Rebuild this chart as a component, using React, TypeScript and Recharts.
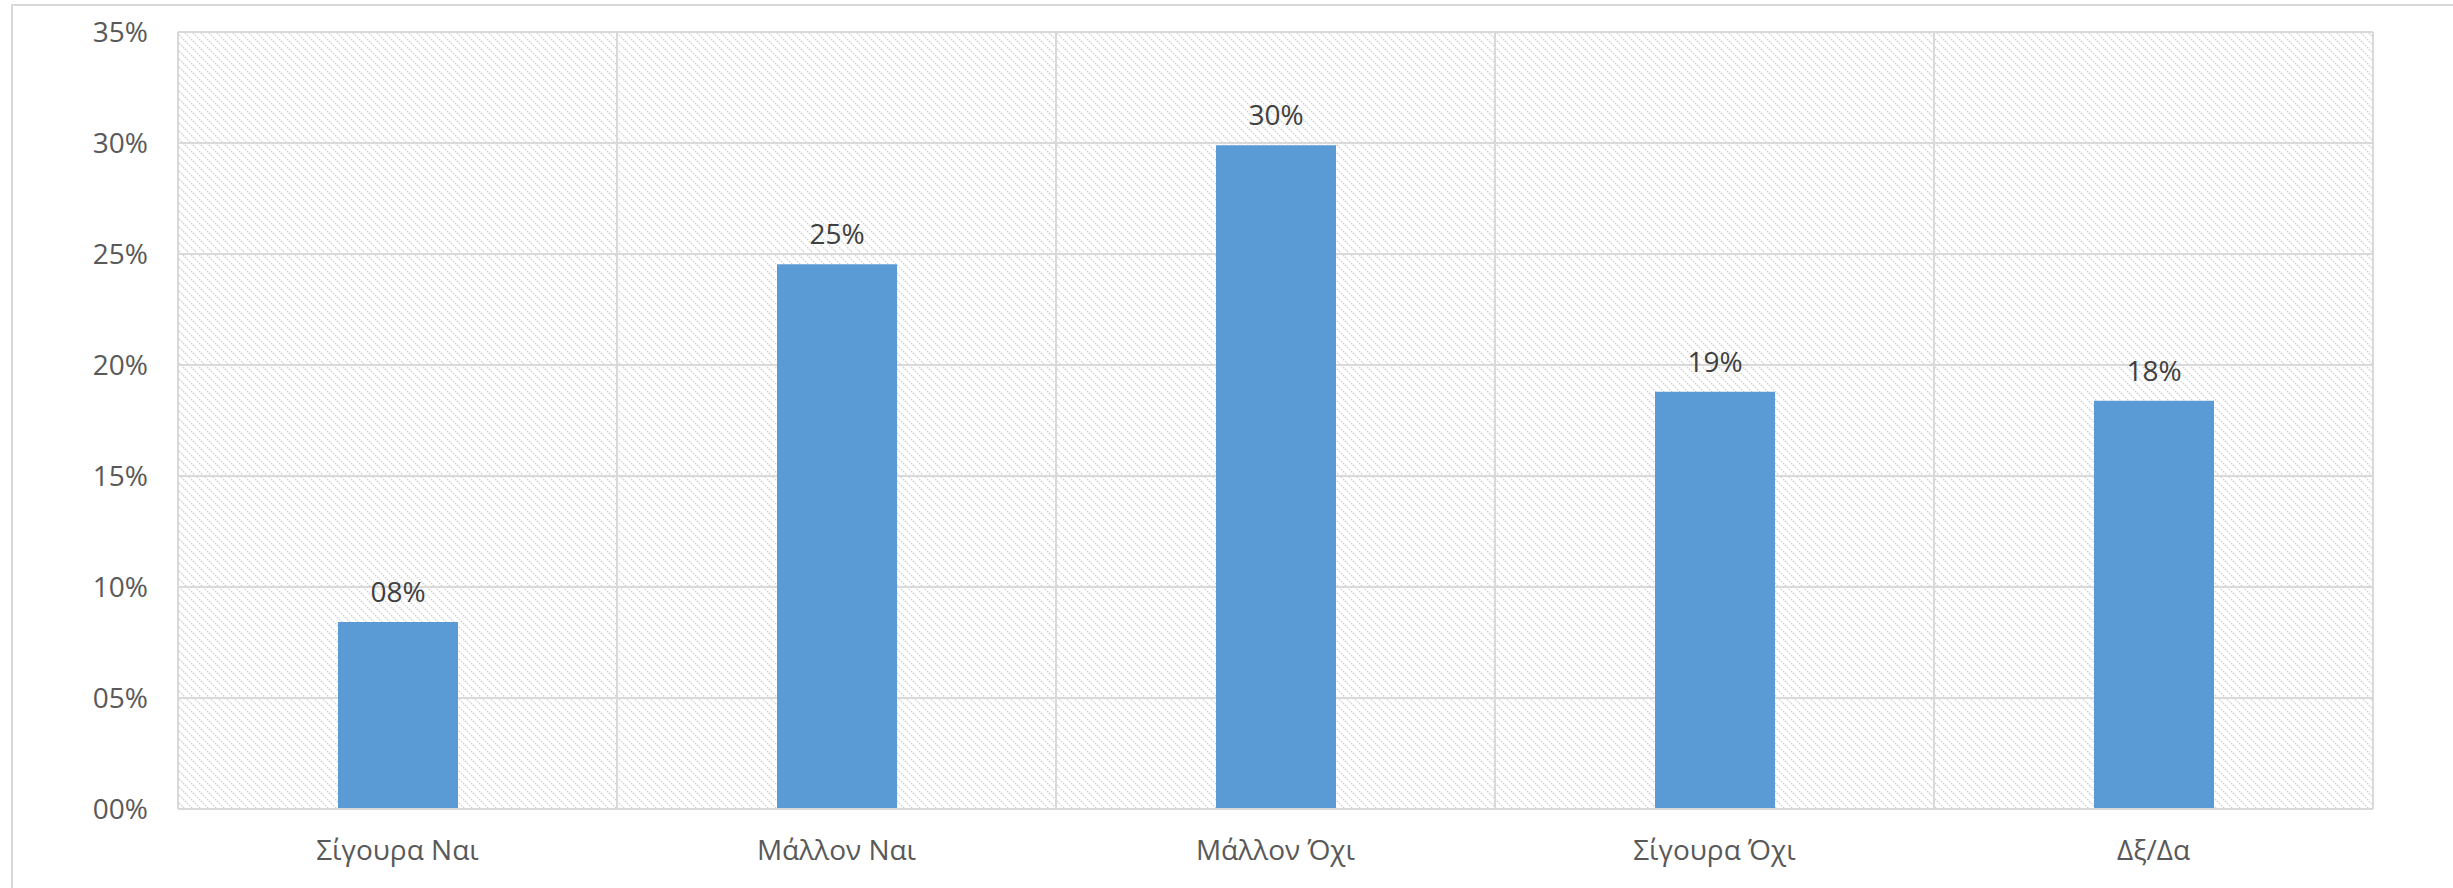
import { Bar, BarChart, CartesianGrid, LabelList, XAxis, YAxis } from "recharts"

const categories = ["Σίγουρα Ναι", "Μάλλον Ναι", "Μάλλον Όχι", "Σίγουρα Όχι", "Δξ/Δα"]
const shares = [0.0842, 0.2454, 0.299, 0.1879, 0.1839]
const yTicks = [0, 0.05, 0.1, 0.15, 0.2, 0.25, 0.3, 0.35]

const data = categories.map((name, i) => ({ name, value: shares[i] }))

const pct = (v: number) => String(Math.round(v * 100)).padStart(2, "0") + "%"

const FONT = "'Open Sans', 'Noto Sans', sans-serif"
const GRID = "#d9d9d9"

// vertical grid lines sit on category boundaries, not on category centres
function boundaryLines({ offset }: { offset: { left: number; width: number } }) {
  const step = offset.width / categories.length
  return categories.map((_, i) => offset.left + i * step).concat(offset.left + offset.width)
}

export default function App() {
  return (
    <div style={{ position: "absolute", left: 0, top: 0, width: 2453, height: 888, background: "#fff", overflow: "hidden" }}>
      <div
        style={{
          position: "absolute",
          left: 11,
          top: 4,
          width: 2442,
          height: 884,
          borderTop: `2px solid ${GRID}`,
          borderLeft: `2px solid ${GRID}`,
          boxSizing: "border-box",
        }}
      />
      <div style={{ position: "absolute", left: 0, top: 0 }}>
        <BarChart
          width={2453}
          height={888}
          data={data}
          margin={{ top: 32, right: 80, bottom: 49, left: 0 }}
          barSize={120}
        >
          <defs>
            <pattern id="hatch" patternUnits="userSpaceOnUse" width="8" height="8">
              <rect width="8" height="8" fill="#ffffff" />
              <path
                d="M-1,-1 L9,9 M-1,7 L1,9 M7,-1 L9,1"
                stroke="#d4d4d4"
                strokeWidth="1.5"
                strokeDasharray="1.6 1.2"
              />
            </pattern>
          </defs>
          <CartesianGrid
            stroke={GRID}
            strokeWidth={2}
            fill="url(#hatch)"
            fillOpacity={1}
            verticalCoordinatesGenerator={boundaryLines}
          />
          <XAxis
            dataKey="name"
            height={30}
            tickLine={false}
            axisLine={{ stroke: GRID, strokeWidth: 2 }}
            tickSize={0}
            tickMargin={31}
            tick={{ fontSize: 28, fill: "#595959", fontFamily: FONT }}
            interval={0}
          />
          <YAxis
            domain={[0, 0.35]}
            ticks={yTicks}
            tickFormatter={pct}
            width={178}
            tickLine={false}
            axisLine={false}
            tickSize={0}
            tickMargin={30}
            tick={{ fontSize: 28, fill: "#595959", fontFamily: FONT }}
          />
          <Bar dataKey="value" fill="#5b9bd5" isAnimationActive={false}>
            <LabelList
              dataKey="value"
              position="top"
              offset={20}
              formatter={(v: number) => pct(v)}
              style={{ fontSize: 28, fill: "#404040", fontFamily: FONT }}
            />
          </Bar>
        </BarChart>
      </div>
    </div>
  )
}
